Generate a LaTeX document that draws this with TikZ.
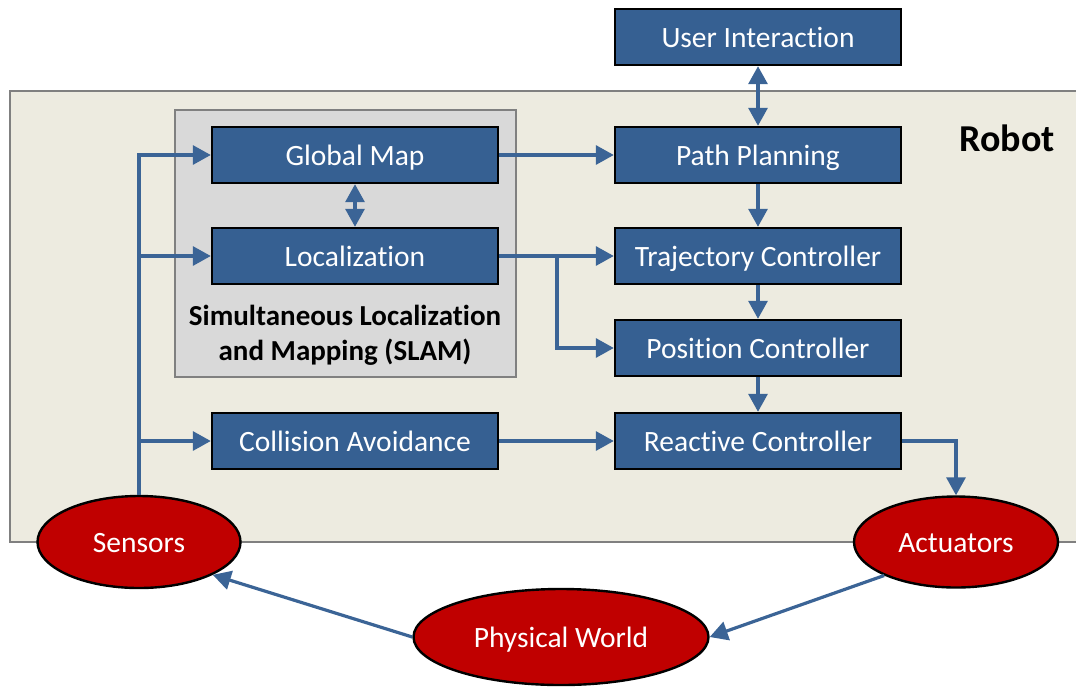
\documentclass[tikz,border=0pt]{standalone}
\usepackage{fontspec}
\setmainfont{Carlito}[Ligatures=NoCommon]
\usetikzlibrary{arrows.meta,shapes.geometric}
\definecolor{boxblue}{RGB}{54,96,146}
\definecolor{linkblue}{RGB}{59,100,150}
\definecolor{robotbg}{RGB}{237,235,224}
\definecolor{slambg}{RGB}{217,217,217}
\definecolor{framegray}{RGB}{128,128,128}
\definecolor{devred}{RGB}{192,0,0}
\begin{document}
\begin{tikzpicture}[x=1pt,y=-1pt,
  labelfont/.style={font=\fontsize{29.5}{34}\selectfont,text height=20pt,text depth=0pt},
  module/.style={draw=black,line width=2.4pt,fill=boxblue,text=white,
    minimum width=286pt,minimum height=56pt,inner sep=0pt,labelfont},
  device/.style={ellipse,draw=black,line width=2.4pt,fill=devred,text=white,
    inner sep=0pt,labelfont},
  link/.style={draw=linkblue,line width=3.2pt,
    -{Triangle[length=18pt,width=19pt]}},
  duplex/.style={draw=linkblue,line width=3.2pt,
    {Triangle[length=18pt,width=19pt]}-{Triangle[length=18pt,width=19pt]}}
]
\useasboundingbox (0,0) rectangle (1076,686);

% robot boundary and SLAM group
\draw[fill=robotbg,draw=framegray,line width=2.5pt] (10,91) rectangle (1100,542);
\node[font=\fontsize{38}{42}\selectfont\bfseries] (robotlabel) at (1007,138) {Robot};
\draw[fill=slambg,draw=framegray,line width=2.5pt] (175,110) rectangle (516,377);
\node[align=center,font=\fontsize{29}{35}\selectfont\bfseries] (slamlabel) at (345,335)
  {Simultaneous Localization\\and Mapping (SLAM)};

% modules
\node[module] (ui)  at (758,37)  {User Interaction};
\node[module] (gm)  at (355,155) {Global Map};
\node[module] (pp)  at (758,155) {Path Planning};
\node[module] (loc) at (355,256) {Localization};
\node[module] (tc)  at (758,256) {Trajectory Controller};
\node[module] (pc)  at (758,348) {Position Controller};
\node[module] (ca)  at (355,441) {Collision Avoidance};
\node[module] (rc)  at (758,441) {Reactive Controller};

% hardware and environment
\node[device,minimum width=203pt,minimum height=92pt] (sens) at (139,542) {Sensors};
\node[device,minimum width=204pt,minimum height=91pt] (act)  at (956,542) {Actuators};
\node[device,minimum width=295pt,minimum height=96pt] (world) at (561,637) {Physical World};

% data flow
\draw[link] (sens.north) |- (gm.west);
\draw[link] (sens.north) |- (loc.west);
\draw[link] (sens.north) |- (ca.west);
\draw[duplex] (gm.south) -- (loc.north);
\draw[duplex] (ui.south) -- (pp.north);
\draw[link] (gm.east) -- (pp.west);
\draw[link] (loc.east) -- (tc.west);
\coordinate (split) at (557,256);
\draw[link] (split) |- (pc.west);
\draw[link] (pp.south) -- (tc.north);
\draw[link] (tc.south) -- (pc.north);
\draw[link] (pc.south) -- (rc.north);
\draw[link] (ca.east) -- (rc.west);
\draw[link] (rc.east) -| (act.north);
\draw[link] (act.-155) -- (world.east);
\draw[link] (world.west) -- (sens.-24);
\end{tikzpicture}
\end{document}
